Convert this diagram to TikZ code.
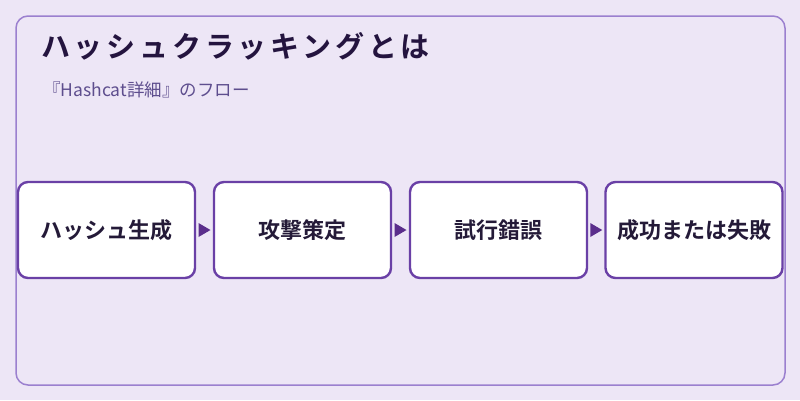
\documentclass[tikz,border=0pt]{standalone}
\usepackage{fontspec}
\setmainfont{Noto Sans CJK JP}
\newfontfamily\jpbold{Noto Sans CJK JP Bold}
\newfontfamily\jptitle[LetterSpace=13]{Noto Sans CJK JP Bold}
\usetikzlibrary{positioning}
\definecolor{bgc}{HTML}{EDE6F6}
\definecolor{framec}{HTML}{9B80CF}
\definecolor{boxc}{HTML}{6A40A6}
\definecolor{arrc}{HTML}{5B2E8C}
\definecolor{titlec}{HTML}{24143F}
\definecolor{subc}{HTML}{5E4E8E}
\definecolor{txtc}{HTML}{241A38}
\tikzset{
  stepbox/.style={draw=boxc, line width=2.4pt, fill=white, rounded corners=10pt,
    minimum width=177pt, minimum height=96pt, inner sep=0pt,
    font=\jpbold\fontsize{22}{25}\selectfont, text=txtc},
  tri/.style={fill=arrc, draw=none}
}
\begin{document}
\begin{tikzpicture}[x=1pt,y=-1pt]
\useasboundingbox[fill=bgc] (0,0) rectangle (800,400);
\draw[framec, line width=1.5pt, rounded corners=12pt] (16,16) rectangle (785,385);
\node[anchor=base west, inner sep=0pt, text=titlec, font=\jptitle\fontsize{29}{33}\selectfont] (title) at (41,57) {ハッシュクラッキングとは};
\node[anchor=base west, inner sep=0pt, text=subc, font=\fontsize{17.5}{20}\selectfont] (sub) at (43,96) {『Hashcat詳細』のフロー};
\node[stepbox] (b1) at (106.5,230) {ハッシュ生成};
\node[stepbox] (b2) at (302.5,230) {攻撃策定};
\node[stepbox] (b3) at (498.5,230) {試行錯誤};
\node[stepbox] (b4) at (694,230) {成功または失敗};
\foreach \a/\b in {b1/b2,b2/b3,b3/b4}{
  \path (\a.east) -- (\b.west) coordinate[pos=0.5] (m\a);
  \fill[arrc] ([xshift=-6pt,yshift=-7pt]m\a) -- ([xshift=6pt]m\a) -- ([xshift=-6pt,yshift=7pt]m\a) -- cycle;
}
\end{tikzpicture}
\end{document}
